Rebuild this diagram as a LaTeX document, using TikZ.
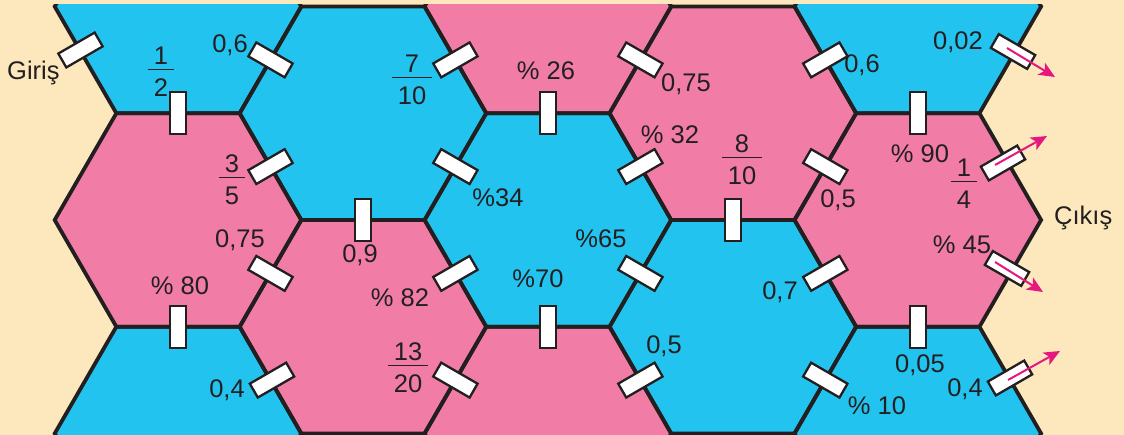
\documentclass[tikz,border=0pt]{standalone}
\usepackage{fontspec}
\setmainfont{Liberation Sans}
\usetikzlibrary{arrows.meta}
\definecolor{hexblue}{HTML}{22C4EF}
\definecolor{hexpink}{HTML}{F17DA7}
\definecolor{bgbeige}{HTML}{FDE8BD}
\definecolor{arrowpink}{HTML}{E5187F}
\definecolor{ink}{HTML}{231F20}
\newcommand\fr[2]{{\renewcommand\arraystretch{0}\setlength\arrayrulewidth{1.6pt}\begin{tabular}{@{\hspace{6pt}}c@{\hspace{6pt}}}\rule[-4pt]{0pt}{4pt}#1\\\hline\rule{0pt}{26pt}#2\end{tabular}}}
\def\hexs{123.3}
\def\hexh{106.75}
\begin{document}
\begin{tikzpicture}[x=1pt,y=-1pt,
  lab/.style={font=\fontsize{25.5}{30}\selectfont, text=ink, inner sep=0pt, anchor=base},
  fraclab/.style={font=\fontsize{25.5}{30}\selectfont, text=ink, inner sep=0pt, anchor=center},
  gate/.style={draw=ink, fill=white, line width=2.3pt, minimum width=42pt, minimum height=16pt, inner sep=0pt, rotate=#1},
  outarrow/.style={draw=arrowpink, line width=2pt, -{Stealth[length=16pt,width=14pt,inset=4pt]}},
  hexline/.style={draw=ink, line width=3.8pt}]
\useasboundingbox (0,0) rectangle (1124,435);
\fill[bgbeige] (0,0) rectangle (1124,435);
% hexagon grid
\begin{scope}
\clip (0,5) rectangle (1124,434);
\foreach \cx/\cy/\cc in {178/6.5/hexblue, 178/220/hexpink, 178/433.5/hexblue,
  362.95/113.25/hexblue, 362.95/326.75/hexpink,
  547.9/6.5/hexpink, 547.9/220/hexblue, 547.9/433.5/hexpink,
  732.85/113.25/hexpink, 732.85/326.75/hexblue,
  917.8/6.5/hexblue, 917.8/220/hexpink, 917.8/433.5/hexblue}{
  \fill[\cc] ({\cx+\hexs},\cy) -- ({\cx+0.5*\hexs},{\cy+\hexh}) -- ({\cx-0.5*\hexs},{\cy+\hexh}) -- ({\cx-\hexs},\cy) -- ({\cx-0.5*\hexs},{\cy-\hexh}) -- ({\cx+0.5*\hexs},{\cy-\hexh}) -- cycle;
}
\foreach \cx/\cy in {178/6.5, 178/220, 178/433.5, 362.95/113.25, 362.95/326.75,
  547.9/6.5, 547.9/220, 547.9/433.5, 732.85/113.25, 732.85/326.75,
  917.8/6.5, 917.8/220, 917.8/433.5}{
  \draw[hexline] ({\cx+\hexs},\cy) -- ({\cx+0.5*\hexs},{\cy+\hexh}) -- ({\cx-0.5*\hexs},{\cy+\hexh}) -- ({\cx-\hexs},\cy) -- ({\cx-0.5*\hexs},{\cy-\hexh}) -- ({\cx+0.5*\hexs},{\cy-\hexh}) -- cycle;
}
\end{scope}
% gates
\node[gate=30]  (g1)  at (80.5,50) {};
\node[gate=90]  (g2)  at (178,113.25) {};
\node[gate=-30] (g3)  at (270.5,59.9) {};
\node[gate=30]  (g4)  at (270.5,166.6) {};
\node[gate=30]  (g5)  at (455.4,59.9) {};
\node[gate=90]  (g6)  at (547.9,113.25) {};
\node[gate=-30] (g7)  at (640.4,59.9) {};
\node[gate=-30] (g8)  at (455.4,166.6) {};
\node[gate=30]  (g9)  at (640.4,166.6) {};
\node[gate=90]  (g10) at (732.85,220) {};
\node[gate=30]  (g11) at (825.3,59.9) {};
\node[gate=90]  (g12) at (917.8,113.25) {};
\node[gate=-30] (g13) at (1013,51.5) {};
\node[gate=-30] (g14) at (825.3,166.6) {};
\node[gate=30]  (g15) at (1003,163) {};
\node[gate=-30] (g16) at (1007,268.5) {};
\node[gate=90]  (g17) at (362.95,220) {};
\node[gate=-30] (g18) at (270.5,273.4) {};
\node[gate=90]  (g19) at (178,326.75) {};
\node[gate=30]  (g20) at (455.4,273.4) {};
\node[gate=-30] (g21) at (640.4,273.4) {};
\node[gate=90]  (g22) at (547.9,326.75) {};
\node[gate=30]  (g23) at (825.3,273.4) {};
\node[gate=90]  (g24) at (917.8,326.75) {};
\node[gate=30]  (g25) at (272,380.1) {};
\node[gate=-30] (g26) at (455.4,380.1) {};
\node[gate=30]  (g27) at (640.4,380.1) {};
\node[gate=-30] (g28) at (825.3,380.1) {};
\node[gate=30]  (g29) at (1010,378) {};
% exit arrows
\coordinate (s13) at (1007,48);   \coordinate (e13) at (1055,77);
\coordinate (s15) at (995,165);   \coordinate (e15) at (1047,136);
\coordinate (s16) at (995,262);   \coordinate (e16) at (1043,292);
\coordinate (s29) at (1008,380);  \coordinate (e29) at (1060,351);
\draw[outarrow] (s13) -- (e13);
\draw[outarrow] (s15) -- (e15);
\draw[outarrow] (s16) -- (e16);
\draw[outarrow] (s29) -- (e29);
% labels
\node[lab, anchor=base west] (giris) at (7,80) {Giriş};
\node[lab, anchor=base west] (cikis) at (1054,225) {Çıkış};
\node[lab] (l3)  at (230,53) {0,6};
\node[lab] (l11) at (862,73) {0,6};
\node[lab] (l13) at (958,50) {0,02};
\node[lab] (l6)  at (546,80) {\% 26};
\node[lab] (l7)  at (686,92) {0,75};
\node[lab] (l9)  at (670,144) {\% 32};
\node[lab] (l8)  at (498,207) {\%34};
\node[lab] (l12) at (920,163) {\% 90};
\node[lab] (l14) at (838,208) {0,5};
\node[lab] (l18) at (240,248) {0,75};
\node[lab] (l19) at (180,295) {\% 80};
\node[lab] (l17) at (360,263) {0,9};
\node[lab] (l25) at (227,397) {0,4};
\node[lab] (l21) at (601,248) {\%65};
\node[lab] (l22) at (538,288) {\%70};
\node[lab] (l20) at (400,307) {\% 82};
\node[lab] (l27) at (664,353) {0,5};
\node[lab] (l16) at (962,254) {\% 45};
\node[lab] (l23) at (780,300) {0,7};
\node[lab] (l24) at (920,373) {0,05};
\node[lab] (l28) at (877,414) {\% 10};
\node[lab] (l29) at (965,396) {0,4};
% fractions
\node[fraclab] (f2)  at (161,71.85) {\fr{1}{2}};
\node[fraclab] (f4)  at (232,179.85) {\fr{3}{5}};
\node[fraclab] (f5)  at (412,79.85) {\fr{7}{10}};
\node[fraclab] (f10) at (742,159.85) {\fr{8}{10}};
\node[fraclab] (f15) at (964,183.85) {\fr{1}{4}};
\node[fraclab] (f26) at (408,367.85) {\fr{13}{20}};
\end{tikzpicture}
\end{document}
